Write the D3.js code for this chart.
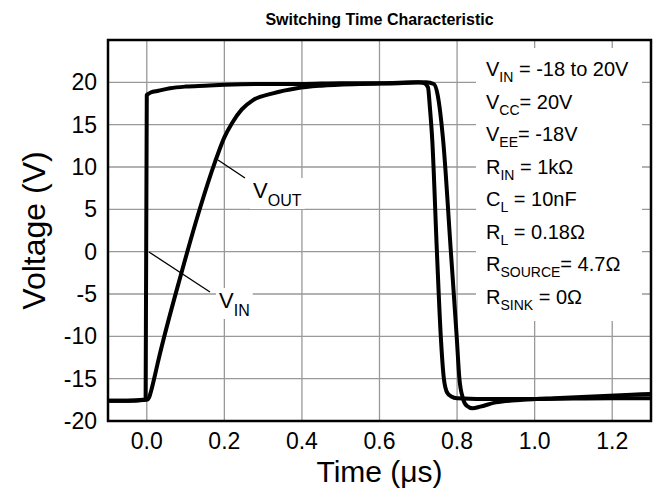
<!DOCTYPE html>
<html>
<head>
<meta charset="utf-8">
<script src="https://cdn.jsdelivr.net/npm/d3@7"></script>
<style>
  body { margin: 0; background: #fff; }
  svg { font-family: "Liberation Sans", Arial, sans-serif; }
</style>
</head>
<body>
<svg width="658" height="489"></svg>
<script>
// values
var xTicks = [0.0, 0.2, 0.4, 0.6, 0.8, 1.0, 1.2];
var yTicks = [-20, -15, -10, -5, 0, 5, 10, 15, 20];

var vinT = [-0.1, -0.05, -0.01, -0.003, 0.0, 0.003, 0.01, 0.03, 0.06, 0.1, 0.15, 0.2, 0.3, 0.4, 0.5, 0.6, 0.7, 0.715, 0.725, 0.73, 0.736, 0.748, 0.758, 0.766, 0.775, 0.785, 0.8, 0.9, 1.0, 1.2, 1.3];
var vinV = [-17.6, -17.6, -17.5, -17.4, 18.5, 18.6, 18.8, 19.0, 19.3, 19.5, 19.6, 19.7, 19.8, 19.8, 19.9, 19.9, 20.0, 19.9, 19.4, 17.0, 13.2, 0, -10, -15, -16.7, -17.1, -17.3, -17.4, -17.4, -17.3, -17.3];

var voutT = [-0.1, -0.05, 0.0, 0.006, 0.012, 0.02, 0.028, 0.09, 0.135, 0.176, 0.2, 0.22, 0.245, 0.274, 0.325, 0.387, 0.45, 0.55, 0.65, 0.72, 0.74, 0.75, 0.764, 0.784, 0.799, 0.806, 0.815, 0.825, 0.84, 0.86, 0.9, 0.97, 1.05, 1.15, 1.25, 1.3];
var voutV = [-17.6, -17.6, -17.5, -17.2, -16.3, -14.8, -13.2, -2.4, 4.8, 10.6, 13.5, 15.2, 16.8, 17.9, 18.7, 19.3, 19.6, 19.8, 19.9, 20.0, 19.8, 18.5, 13.2, 0, -10, -15, -17.3, -18.2, -18.5, -18.3, -17.8, -17.5, -17.3, -17.1, -16.9, -16.8];

var notes = [
  ["V", "IN", " = -18 to 20V"],
  ["V", "CC", "= 20V"],
  ["V", "EE", "= -18V"],
  ["R", "IN", " = 1k\u03A9"],
  ["C", "L", " = 10nF"],
  ["R", "L", " = 0.18\u03A9"],
  ["R", "SOURCE", "= 4.7\u03A9"],
  ["R", "SINK", " = 0\u03A9"]
];

var svg = d3.select('svg');
var pL = 108, pR = 651, pT = 40, pB = 421;

var x = d3.scaleLinear().domain([-0.1, 1.3]).range([pL, pR]);
var y = d3.scaleLinear().domain([-20, 25]).range([pB, pT]);

// grid
svg.append('g').selectAll('line')
  .data(xTicks).enter().append('line')
  .attr('x1', d => x(d)).attr('x2', d => x(d))
  .attr('y1', pT).attr('y2', pB)
  .attr('stroke', '#999').attr('stroke-width', 1.3);

svg.append('g').selectAll('line')
  .data(yTicks).enter().append('line')
  .attr('x1', pL).attr('x2', pR)
  .attr('y1', d => y(d)).attr('y2', d => y(d))
  .attr('stroke', '#999').attr('stroke-width', 1.3);

// white box behind the conditions text
svg.append('rect')
  .attr('x', 476).attr('y', pT + 8)
  .attr('width', 166).attr('height', 273)
  .attr('fill', '#fff');
svg.append('rect')
  .attr('x', 476).attr('y', pT)
  .attr('width', 52).attr('height', 10)
  .attr('fill', '#fff');
svg.append('rect')
  .attr('x', 541).attr('y', pT)
  .attr('width', 68).attr('height', 10)
  .attr('fill', '#fff');

// curves
var line = d3.line()
  .x(d => x(d[0]))
  .y(d => y(d[1]))
  .curve(d3.curveMonotoneX);

svg.append('path')
  .datum(d3.zip(voutT, voutV))
  .attr('d', line)
  .attr('fill', 'none').attr('stroke', '#000')
  .attr('stroke-width', 4).attr('stroke-linejoin', 'round');

svg.append('path')
  .datum(d3.zip(vinT, vinV))
  .attr('d', line)
  .attr('fill', 'none').attr('stroke', '#000')
  .attr('stroke-width', 4).attr('stroke-linejoin', 'round');

// leader lines
svg.append('line')
  .attr('x1', 218).attr('y1', 160).attr('x2', 245).attr('y2', 178)
  .attr('stroke', '#000').attr('stroke-width', 1.3);
svg.append('line')
  .attr('x1', 149).attr('y1', 252).attr('x2', 210).attr('y2', 292)
  .attr('stroke', '#000').attr('stroke-width', 1.3);

// curve labels with white backing
function label(px, py, main, sub) {
  var g = svg.append('g');
  var bg = g.append('rect').attr('fill', '#fff');
  var t = g.append('text').attr('x', px).attr('y', py)
    .attr('font-size', 22).attr('fill', '#000');
  t.append('tspan').text(main);
  t.append('tspan').attr('font-size', 16).attr('dy', 8).text(sub);
  var b = t.node().getBBox();
  bg.attr('x', b.x - 3).attr('y', b.y).attr('width', b.width + 6).attr('height', b.height);
}
label(253, 198, 'V', 'OUT');
label(219, 308, 'V', 'IN');

// conditions text
var nt = svg.append('g');
notes.forEach(function(n, i) {
  var t = nt.append('text')
    .attr('x', 486).attr('y', 76 + i * 32.5)
    .attr('font-size', 20).attr('fill', '#000');
  t.append('tspan').text(n[0]);
  t.append('tspan').attr('font-size', 14).attr('dy', 6).text(n[1]);
  t.append('tspan').attr('dy', -6).text(n[2]);
});

// frame
svg.append('rect')
  .attr('x', pL).attr('y', pT)
  .attr('width', pR - pL).attr('height', pB - pT)
  .attr('fill', 'none').attr('stroke', '#000').attr('stroke-width', 2.5);

// tick labels
svg.append('g').selectAll('text')
  .data(xTicks).enter().append('text')
  .attr('x', d => x(d)).attr('y', 449)
  .attr('text-anchor', 'middle').attr('font-size', 23)
  .text(d => d.toFixed(1));

svg.append('g').selectAll('text')
  .data(yTicks).enter().append('text')
  .attr('x', 97).attr('y', d => y(d) + 8)
  .attr('text-anchor', 'end').attr('font-size', 23)
  .text(d => d);

// titles
svg.append('text')
  .attr('x', (pL + pR) / 2).attr('y', 25)
  .attr('text-anchor', 'middle').attr('font-size', 16).attr('font-weight', 'bold')
  .text('Switching Time Characteristic');

svg.append('text')
  .attr('x', (pL + pR) / 2).attr('y', 482)
  .attr('text-anchor', 'middle').attr('font-size', 30)
  .text('Time (\u03BCs)');

svg.append('text')
  .attr('transform', 'translate(45,' + (pT + pB) / 2 + ') rotate(-90)')
  .attr('text-anchor', 'middle').attr('font-size', 32)
  .text('Voltage (V)');
</script>
</body>
</html>
